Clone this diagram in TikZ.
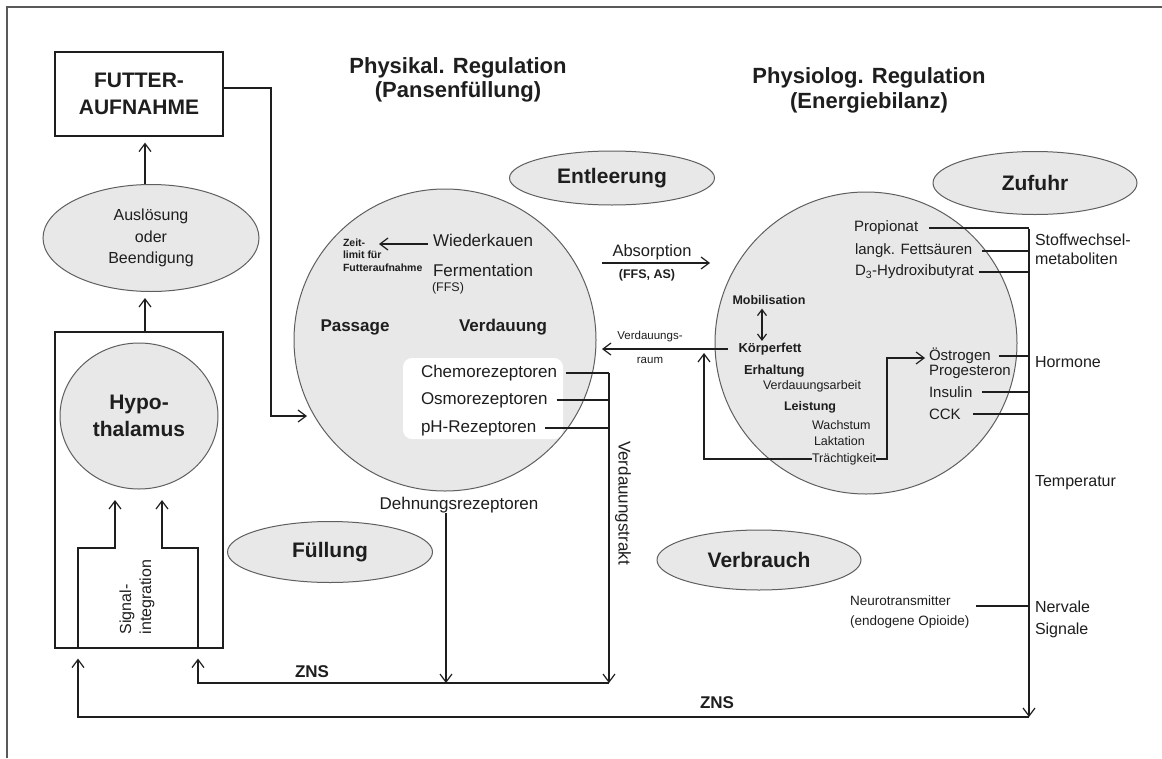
\documentclass[tikz,border=0pt]{standalone}
\usepackage{fontspec}
\setmainfont{Liberation Sans}
\usetikzlibrary{arrows.meta,shapes.geometric,calc}
\definecolor{blobfill}{RGB}{232,232,232}
\definecolor{blobedge}{RGB}{95,95,95}
\definecolor{ink}{RGB}{30,30,30}
\newcommand{\fsz}[2]{\fontsize{#1}{#2}\selectfont}
\begin{document}
\begin{tikzpicture}[x=1pt,y=-1pt,
  ln/.style={line width=1.2pt, draw=ink},
  arr/.style={ln, -{Straight Barb[length=8pt,width=12pt]}},
  sarr/.style={ln, {Straight Barb[length=6pt,width=9pt]}-{Straight Barb[length=6pt,width=9pt]}},
  blob/.style={ellipse, draw=blobedge, fill=blobfill, line width=1pt, inner sep=0pt, text=ink, font=\bfseries\fsz{21}{25}},
  bigc/.style={circle, draw=blobedge, fill=blobfill, line width=1pt, inner sep=0pt, minimum size=302pt},
  txt/.style={inner sep=0pt, outer sep=0pt, text=ink},
  lab/.style={txt, anchor=west},
]
\useasboundingbox (0,0) rectangle (1162,758);
\fill[white] (0,0) rectangle (1162,758);
\draw[line width=2pt, draw=black!65] (7,758) -- (7,7) -- (1162,7);

% ---------- left column ----------
\node[draw=ink, line width=1.2pt, minimum width=168pt, minimum height=84pt, inner sep=0pt, align=center, text=ink, font=\bfseries\fsz{21}{27}] (futter) at (139,94) {FUTTER-\\AUFNAHME};
\node[blob, minimum width=216pt, minimum height=107pt, align=center, font=\fsz{16}{21.5}] (ausl) at (151,238) {Auslösung\\oder\\Beendigung};
\node[draw=ink, line width=1.2pt, minimum width=168pt, minimum height=316pt, inner sep=0pt] (hbox) at (139,490) {};
\node[blob, minimum width=158pt, minimum height=146pt, align=center, font=\bfseries\fsz{21}{27}] (hypo) at (139,416) {Hypo-\\thalamus};
\node[txt, rotate=90, align=left, font=\fsz{16}{20}] (sig) at (137,597) {Signal-\\integration};

\coordinate (ax) at (145,0);
\draw[arr, shorten >=6pt] (hbox.north -| ax) -- (ausl.south -| ax);
\draw[arr, shorten >=6pt] (ausl.north -| ax) -- (futter.south -| ax);

\coordinate (iL) at (78,548); \coordinate (iLa) at (115,548); \coordinate (iLt) at (115,500);
\coordinate (iR) at (198,548); \coordinate (iRa) at (162,548); \coordinate (iRt) at (162,500);
\draw[arr] (hbox.south -| iL) -- (iL) -- (iLa) -- (iLt);
\draw[arr] (hbox.south -| iR) -- (iR) -- (iRa) -- (iRt);

% ---------- titles ----------
\node[txt, align=center, font=\bfseries\fsz{22}{24}] (t1) at (458,80) {Physikal. Regulation\\(Pansenfüllung)};
\node[txt, align=center, font=\bfseries\fsz{22}{25}] (t2) at (869,90) {Physiolog. Regulation\\(Energiebilanz)};

% ---------- ellipses ----------
\node[blob, minimum width=205pt, minimum height=54pt] (entl) at (612,178) {Entleerung};
\node[blob, minimum width=204pt, minimum height=63pt] (zuf) at (1035,183) {Zufuhr};
\node[blob, minimum width=205pt, minimum height=61pt] (fuell) at (330,552) {Füllung};
\node[blob, minimum width=204pt, minimum height=60pt] (verb) at (759,560) {Verbrauch};

% ---------- rumen circle ----------
\node[bigc] (pans) at (445,340) {};
\node[fill=white, rounded corners=9pt, minimum width=160pt, minimum height=81pt, inner sep=0pt] (rez) at (483,398.5) {};

\node[lab, font=\fsz{17}{20}] (wied) at (433,240) {Wiederkauen};
\node[lab, align=left, font=\bfseries\fsz{10.5}{12.5}] (zeit) at (343,255) {Zeit-\\limit für\\Futteraufnahme};
\coordinate (zt) at (379,244);
\draw[arr, shorten <=5pt] (wied.west |- zt) -- (zt);
\node[lab, font=\fsz{17}{20}] (ferm) at (433,270) {Fermentation};
\node[lab, font=\fsz{12.5}{15}] (ffs) at (432,288) {(FFS)};
\node[txt, font=\bfseries\fsz{17}{20}] (pass) at (355,327) {Passage};
\node[txt, font=\bfseries\fsz{17}{20}] (verd) at (503,327) {Verdauung};
\node[lab, font=\fsz{17}{20}] (chemo) at (421,373) {Chemorezeptoren};
\node[lab, font=\fsz{17}{20}] (osmo) at (421,400) {Osmorezeptoren};
\node[lab, font=\fsz{17}{20}] (ph) at (421,428) {pH-Rezeptoren};
\node[txt, font=\fsz{17}{20}] (dehn) at (459,505) {Dehnungsrezeptoren};
\node[txt, rotate=-90, font=\fsz{17}{20}] (vtrakt) at (623,503) {Verdauungstrakt};

\coordinate (vt) at (609,374);
\draw[ln] ($(chemo.east)+(9,0)$) -- (chemo.east -| vt);
\draw[ln] ($(osmo.east)+(9,0)$) -- (osmo.east -| vt);
\draw[ln] ($(ph.east)+(9,0)$) -- (ph.east -| vt);

% futter -> rumen
\coordinate (fk) at (271,88); \coordinate (pk) at (307,416);
\draw[arr] (futter.east |- fk) -- (fk) |- (pk);

% ---------- ZNS lines ----------
\coordinate (zm1) at (198,683); \coordinate (zm3) at (446,683); \coordinate (zm2) at (609,683);
\draw[arr] (chemo.east -| vt) -- (zm2);
\draw[arr] (dehn.south -| zm3) -- (zm3);
\draw[arr, shorten >=10pt] (zm2) -- (zm1) -- (hbox.south -| iR);
\node[txt, font=\bfseries\fsz{17}{20}] (zns1) at (312,672) {ZNS};

\coordinate (zl) at (1029,229); \coordinate (zR) at (1029,717); \coordinate (zb) at (78,717);
\draw[arr] (zl) -- (zR);
\draw[arr, shorten >=10pt] (zR) -- (zb) -- (hbox.south -| iL);
\node[txt, font=\bfseries\fsz{17}{20}] (zns2) at (717,703) {ZNS};

% ---------- absorption ----------
\node[txt, font=\fsz{16.5}{20}] (abs) at (652,252) {Absorption};
\node[txt, font=\bfseries\fsz{12.5}{15}] (ffsas) at (647,275) {(FFS, AS)};
\coordinate (a1) at (602,263); \coordinate (a2) at (710,263);
\draw[arr] (a1) -- (a2);

% ---------- energy circle ----------
\node[bigc] (phys) at (866,343) {};
\node[lab, font=\fsz{15}{18}] (prop) at (854,228) {Propionat};
\node[lab, font=\fsz{15}{18}] (langk) at (855,251) {langk. Fettsäuren};
\node[lab, font=\fsz{15}{18}] (dhyd) at (855,272) {D\textsubscript{3}-Hydroxibutyrat};
\node[txt, font=\bfseries\fsz{12.5}{15}] (mobil) at (769,300) {Mobilisation};
\node[txt, font=\bfseries\fsz{13}{15}] (korp) at (770,349) {Körperfett};
\node[lab, font=\bfseries\fsz{13}{15}] (erh) at (744,371) {Erhaltung};
\node[lab, font=\fsz{12.5}{15}] (vda) at (763,386) {Verdauungsarbeit};
\node[lab, font=\bfseries\fsz{12.5}{15}] (leist) at (784,407) {Leistung};
\node[lab, font=\fsz{12.5}{15}] (wachs) at (812,425) {Wachstum};
\node[lab, font=\fsz{12.5}{15}] (lakt) at (814,441) {Laktation};
\node[lab, font=\fsz{12.5}{15}] (traecht) at (812,459) {Trächtigkeit};
\node[lab, font=\fsz{15}{18}] (oestr) at (929,356) {Östrogen};
\node[lab, font=\fsz{15}{18}] (prog) at (929,372) {Progesteron};
\node[lab, font=\fsz{15}{18}] (insu) at (929,392) {Insulin};
\node[lab, font=\fsz{15}{18}] (cck) at (929,414) {CCK};

\coordinate (dax) at (762,0);
\draw[sarr, shorten <=4pt, shorten >=2pt] (mobil.south -| dax) -- (korp.north -| dax);

\coordinate (vrt) at (602,350);
\draw[arr] ($(korp.west)+(-11,0)$) -- (vrt |- korp.west);
\node[txt, font=\fsz{11.5}{14}] (vr1) at (650,337) {Verdauungs-};
\node[txt, font=\fsz{11.5}{14}] (vr2) at (650,360) {raum};

\coordinate (tl) at (704,353); \coordinate (tr) at (887,358);
\draw[arr] (traecht.west) -| (tl);
\draw[arr, shorten >=4pt] (traecht.east) -| (tr) -- (tr -| oestr.west);

\draw[ln] ($(prop.east)+(11,0)$) -- (prop.east -| zl);
\draw[ln] ($(langk.east)+(10,0)$) -- (langk.east -| zl);
\draw[ln] ($(dhyd.east)+(5,0)$) -- (dhyd.east -| zl);
\draw[ln] ($(oestr.east)+(8,0)$) -- (oestr.east -| zl);
\draw[ln] ($(insu.east)+(10,0)$) -- (insu.east -| zl);
\draw[ln] ($(cck.east)+(12,0)$) -- (cck.east -| zl);

% ---------- right labels ----------
\node[lab, align=left, font=\fsz{16}{19}] (stoff) at (1035,249) {Stoffwechsel-\\metaboliten};
\node[lab, font=\fsz{16}{19}] (horm) at (1035,362) {Hormone};
\node[lab, font=\fsz{16}{19}] (temp) at (1035,483) {Temperatur};
\node[lab, align=left, font=\fsz{16}{22}] (nerv) at (1035,619) {Nervale\\Signale};
\node[lab, align=left, font=\fsz{13.5}{20}] (neuro) at (850,612) {Neurotransmitter\\(endogene Opioide)};
\coordinate (nl) at (1029,606);
\draw[ln] ($(neuro.east |- nl)+(7,0)$) -- (nl);
\end{tikzpicture}
\end{document}
